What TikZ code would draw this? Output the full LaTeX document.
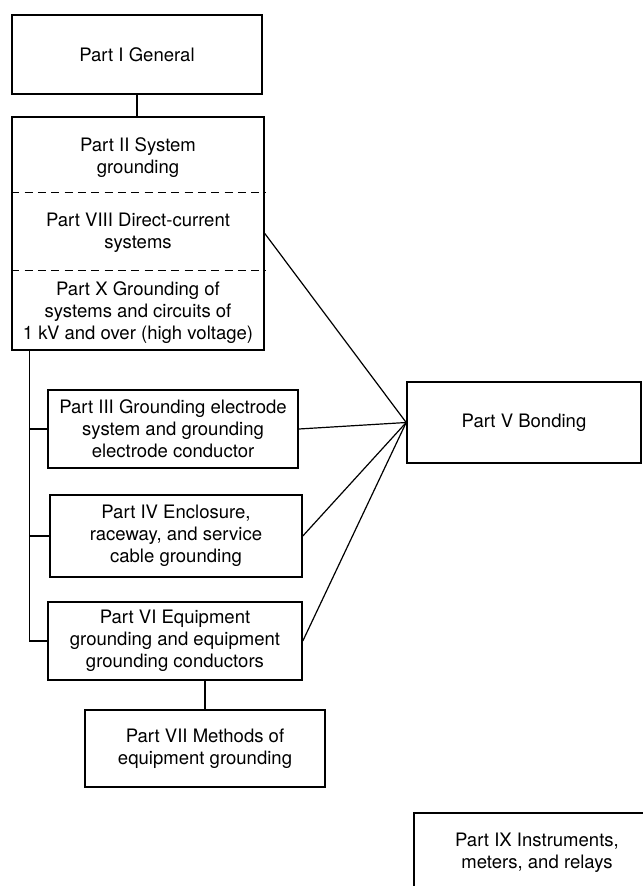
\documentclass[tikz,border=0pt]{standalone}
\usepackage{fontspec}
\setmainfont{TeX Gyre Heros}
\usetikzlibrary{positioning,calc}
\tikzset{>=latex}

\begin{document}
\begin{tikzpicture}[x=0.75pt, y=-0.75pt, box/.style = {draw, line width=1.2pt, align=center, inner sep=0pt, font=\fontsize{13.9}{16.5}\selectfont}, txt/.style = {align=center, font=\fontsize{13.9}{16.5}\selectfont}, link/.style = {line width=0.9pt}]
\useasboundingbox (0,0) rectangle (643,886);
% boxes
\node[box, minimum width=187.5pt, minimum height=59.25pt] (P1) at (137,54.5) {Part I General};
\node[box, minimum width=189pt, minimum height=174.75pt] (grp) at (138,233.5) {};
\node[txt] (P2) at (138,158) {Part II System\\grounding};
\node[txt] (P8) at (138,233) {Part VIII Direct-current\\systems};
\node[txt] (P10) at (138,313) {Part X Grounding of\\systems and circuits of\\1 kV and over (high voltage)};
\draw[dashed, dash pattern=on 6pt off 4pt, line width=0.9pt] ($(grp.north west)+(0,76)$) -- ($(grp.north east)+(0,76)$);
\draw[dashed, dash pattern=on 6pt off 4pt, line width=0.9pt] ($(grp.north west)+(0,154)$) -- ($(grp.north east)+(0,154)$);
\node[box, minimum width=187.5pt, minimum height=58.5pt] (P3) at (173,429) {Part III Grounding electrode\\system and grounding\\electrode conductor};
\node[box, minimum width=189pt, minimum height=61.5pt] (P4) at (176,536) {Part IV Enclosure,\\raceway, and service\\cable grounding};
\node[box, minimum width=175.5pt, minimum height=60.75pt] (P5) at (524,422.5) {Part V Bonding};
\node[box, minimum width=190.5pt, minimum height=58.5pt] (P6) at (175,641) {Part VI Equipment\\grounding and equipment\\grounding conductors};
\node[box, minimum width=180pt, minimum height=57.75pt] (P7) at (205,748.5) {Part VII Methods of\\equipment grounding};
\node[box, minimum width=184.5pt, minimum height=59.25pt] (P9) at (537,852.5) {Part IX Instruments,\\meters, and relays};
% connectors
\coordinate (trunk) at ($(grp.south west)+(18,0)$);
\draw[link] (P1.south) -- (P1.south |- grp.north);
\draw[link] (trunk) |- (P6.west);
\draw[link] (trunk |- P3.west) -- (P3.west);
\draw[link] (trunk |- P4.west) -- (P4.west);
\draw[link] (P7.north) -- (P7.north |- P6.south);
\foreach \n in {grp,P3,P4,P6}
    \draw[link] (\n.east) -- (P5.west);
\end{tikzpicture}
\end{document}
